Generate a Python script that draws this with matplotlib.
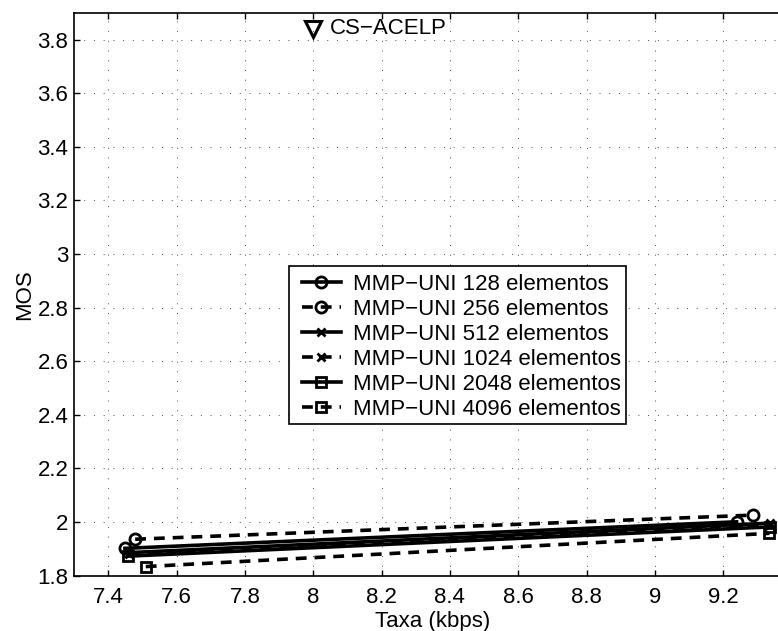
# MOS x Taxa - MMP-UNI

import matplotlib
matplotlib.use('Agg')
import matplotlib.pyplot as plt
from matplotlib.patches import Rectangle

plt.rcParams['font.family'] = ['Liberation Sans', 'DejaVu Sans']
plt.rcParams['font.size'] = 16

# dados (taxa em kbps, MOS)
taxa_128 = [7.449, 9.239]
mos_128 = [1.902, 2.001]
taxa_256 = [7.479, 9.288]
mos_256 = [1.936, 2.026]
taxa_512 = [7.460, 9.337]
mos_512 = [1.886, 1.996]
taxa_1024 = [7.460, 9.337]
mos_1024 = [1.882, 1.990]
taxa_2048 = [7.459, 9.337]
mos_2048 = [1.873, 1.982]
taxa_4096 = [7.510, 9.335]
mos_4096 = [1.834, 1.958]

acelp_taxa = [8.0]
acelp_mos = [3.84]

xticks = [7.4, 7.6, 7.8, 8.0, 8.2, 8.4, 8.6, 8.8, 9.0, 9.2]
xticklabels = ['7.4', '7.6', '7.8', '8', '8.2', '8.4', '8.6', '8.8', '9', '9.2']
yticks = [1.8, 2.0, 2.2, 2.4, 2.6, 2.8, 3.0, 3.2, 3.4, 3.6, 3.8]
yticklabels = ['1.8', '2', '2.2', '2.4', '2.6', '2.8', '3', '3.2', '3.4', '3.6', '3.8']

W, H = 778, 631
fig = plt.figure(figsize=(W / 100, H / 100), dpi=100)
ax = fig.add_axes([74 / W, 55.3 / H, 717.6 / W, 563 / H])

dash = (0, (3.0, 2.2))
estilo = dict(color='black', linewidth=2.6, markeredgewidth=2, markerfacecolor='none')

ax.plot(taxa_128, mos_128, '-', marker='o', markersize=8, label='MMP\u2212UNI 128 elementos', **estilo)
ax.plot(taxa_256, mos_256, linestyle=dash, marker='o', markersize=8, label='MMP\u2212UNI 256 elementos', **estilo)
ax.plot(taxa_512, mos_512, '-', marker='x', markersize=6, label='MMP\u2212UNI 512 elementos', **estilo)
ax.plot(taxa_1024, mos_1024, linestyle=dash, marker='x', markersize=6, label='MMP\u2212UNI 1024 elementos', **estilo)
ax.plot(taxa_2048, mos_2048, '-', marker='s', markersize=7, label='MMP\u2212UNI 2048 elementos', **estilo)
ax.plot(taxa_4096, mos_4096, linestyle=dash, marker='s', markersize=7, label='MMP\u2212UNI 4096 elementos', **estilo)

# ponto de referencia CS-ACELP
ax.plot(acelp_taxa, acelp_mos, linestyle='none', marker='v', color='black',
        markersize=11, markeredgewidth=2.2, markerfacecolor='none')
ax.text(acelp_taxa[0] + 0.05, acelp_mos[0], 'CS\u2212ACELP', va='center', ha='left')

ax.set_xlim(7.3, 9.4)
ax.set_ylim(1.8, 3.9)
ax.set_xticks(xticks)
ax.set_xticklabels(xticklabels)
ax.set_yticks(yticks)
ax.set_yticklabels(yticklabels)
ax.tick_params(direction='in', length=4.5, width=1, top=True, right=True, pad=8)
ax.tick_params(axis='y', pad=4)
ax.grid(True, color='0.3', linestyle=(0, (1, 9)), linewidth=0.7)
for s in ax.spines.values():
    s.set_linewidth(1.2)

ax.set_xlabel('Taxa (kbps)', labelpad=2)
ax.set_ylabel('MOS', labelpad=2)

# caixa da legenda desenhada a parte (estilo MATLAB)
caixa = Rectangle((289 / W, 1 - 424 / H), (626 - 289) / W, (424 - 266) / H,
                  transform=fig.transFigure, facecolor='white', edgecolor='black',
                  linewidth=1.2, zorder=2)
fig.add_artist(caixa)

handles, labels = ax.get_legend_handles_labels()
leg = fig.legend(handles, labels, loc='upper left', bbox_to_anchor=(301.7 / W, 1 - 274 / H),
                 borderaxespad=0, borderpad=0, frameon=False, numpoints=1,
                 handlelength=1.75, handletextpad=0.55, labelspacing=0.18)
leg.set_zorder(3)

plt.savefig('out.png', dpi=100)
